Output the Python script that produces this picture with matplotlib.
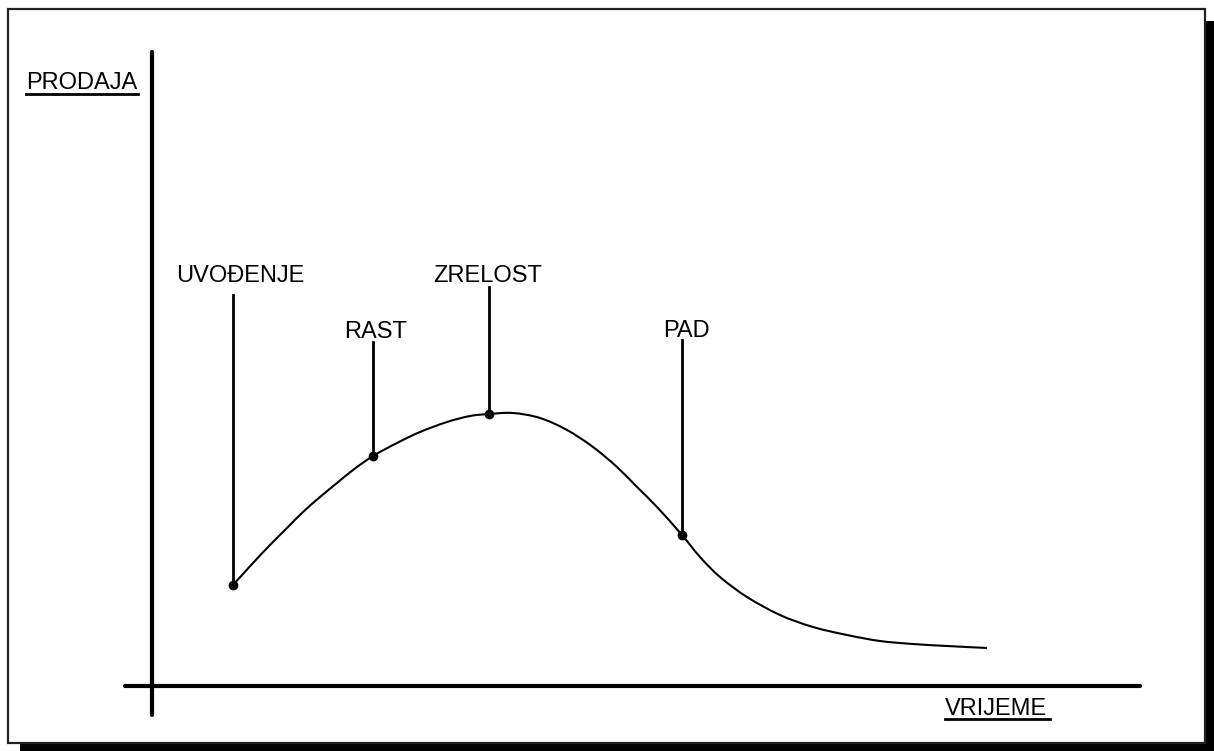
import matplotlib
matplotlib.use("Agg")
import matplotlib.pyplot as plt
from matplotlib.patches import Rectangle, PathPatch
from matplotlib.path import Path

# curve: time vs. sales (origin where the axes cross)
vrijeme = [81, 101, 118, 135, 151, 168, 185, 201, 221, 245, 268, 295, 318, 337,
           361, 388, 415, 441, 465, 485, 505, 530, 548, 568, 595, 628, 661, 695,
           728, 761, 795, 835]
prodaja = [101, 123, 141, 158, 174, 189, 203, 216, 230, 243, 254, 264, 270, 272,
           273, 268, 256, 239, 219, 199, 179, 151, 129, 109, 89, 71, 59, 51,
           45, 42, 40, 38]

# product life cycle stages
faze = ["UVOĐENJE", "RAST", "ZRELOST", "PAD"]
faza_idx = [0, 8, 13, 21]          # index of the point on the curve
vrh_linije = [391, 344, 399, 346]  # top of the leader line
faza_tekst = [(88, 404), (224, 348), (336, 404), (534, 349)]

os_y = "PRODAJA"
os_x = "VRIJEME"

plt.rcParams['font.family'] = ['Liberation Sans', 'DejaVu Sans']
FS = 17

fig = plt.figure(figsize=(12.14, 7.51), dpi=100)
ax = fig.add_axes([0, 0, 1, 1])
ax.set_xlim(-152, 1062)
ax.set_ylim(-65, 686)
ax.axis("off")

# frame with drop shadow
ax.add_patch(Rectangle((-132, -69), 1197, 734, facecolor="black", edgecolor="none", zorder=0))
ax.add_patch(Rectangle((-144, -57), 1197, 734, facecolor="white", edgecolor="#222222",
                       linewidth=1.6, zorder=1))

# axes lines
ax.plot([0, 0], [-29, 634], color="black", lw=3, solid_capstyle="round", zorder=3)
ax.plot([-27, 988], [0, 0], color="black", lw=3, solid_capstyle="round", zorder=3)

# curve: smooth bezier path through the read points (catmull-rom handles)
pts = list(zip(vrijeme, prodaja))
verts = [pts[0]]
codes = [Path.MOVETO]
for k in range(len(pts) - 1):
    p0 = pts[k - 1] if k > 0 else pts[k]
    p1, p2 = pts[k], pts[k + 1]
    p3 = pts[k + 2] if k + 2 < len(pts) else pts[k + 1]
    c1 = (p1[0] + (p2[0] - p0[0]) / 6, p1[1] + (p2[1] - p0[1]) / 6)
    c2 = (p2[0] - (p3[0] - p1[0]) / 6, p2[1] - (p3[1] - p1[1]) / 6)
    verts += [c1, c2, p2]
    codes += [Path.CURVE4] * 3
ax.add_patch(PathPatch(Path(verts, codes), facecolor="none", edgecolor="black",
                       lw=1.5, zorder=3))

for name, i, top, (tx, ty) in zip(faze, faza_idx, vrh_linije, faza_tekst):
    x, y = vrijeme[i], prodaja[i]
    ax.plot([x, x], [y, top], color="black", lw=2, zorder=3)
    ax.plot(x, y, "o", color="black", markersize=6, zorder=4)
    ax.text(tx, ty, name, ha="center", va="baseline", fontsize=FS, color="black", zorder=4)

# underlined axis titles
ax.text(-126, 597, os_y, ha="left", va="baseline", fontsize=FS, zorder=4)
ax.plot([-126, -14], [592, 592], color="black", lw=2, zorder=4)
ax.text(793, -29, os_x, ha="left", va="baseline", fontsize=FS, zorder=4)
ax.plot([793, 898], [-33, -33], color="black", lw=2, zorder=4)

fig.savefig("out.png", dpi=100)
